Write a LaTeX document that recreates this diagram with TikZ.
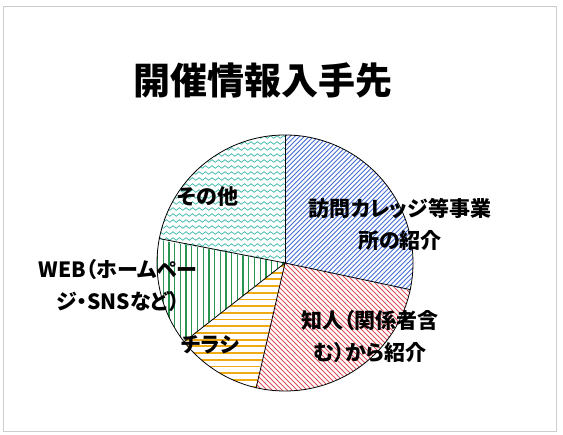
\documentclass[tikz,border=0pt]{standalone}
\usepackage{fontspec}
\setmainfont{Noto Sans CJK JP}
\newfontfamily\pcjk[RawFeature=+palt]{Noto Sans CJK JP}
\usetikzlibrary{decorations.pathmorphing}
\definecolor{hblue}{RGB}{70,110,215}
\definecolor{hred}{RGB}{225,75,85}
\definecolor{horange}{RGB}{240,170,20}
\definecolor{hgreen}{RGB}{40,150,80}
\definecolor{hteal}{RGB}{60,185,170}
\definecolor{framegray}{RGB}{205,205,205}
\tikzset{
  lbl/.style={font=\pcjk\bfseries\fontsize{21}{32}\selectfont, align=center, inner sep=0pt, text=black},
  ttlstyle/.style={font=\bfseries\fontsize{37}{40}\selectfont, inner sep=0pt},
  pieedge/.style={draw=black, line width=0.8pt},
  bluehatch/.style={hblue, line width=0.9pt},
  redhatch/.style={hred, line width=0.9pt},
  orangehatch/.style={horange, line width=1.8pt},
  greenhatch/.style={hgreen, line width=1.3pt},
  tealwave/.style={hteal, line width=0.7pt, decorate, decoration={snake, segment length=6.5pt, amplitude=1.3pt}},
}
\begin{document}
\begin{tikzpicture}[x=1pt,y=1pt]
\useasboundingbox (0,0) rectangle (563,435);
\fill[white] (0,0) rectangle (563,435);
\draw[framegray, line width=1pt] (3,3) rectangle (556,428);

\coordinate (c) at (285,172);
\def\R{128}
\begin{scope}[shift={(c)}]
  % 訪問カレッジ等事業所の紹介
  \begin{scope}
    \clip (0,0) -- (-12.5:\R) arc[start angle=-12.5, end angle=90, radius=\R] -- cycle;
    \foreach \k in {-300,-295.3,...,300} \draw[bluehatch] (\k-150,-150) -- ++(300,300);
  \end{scope}
  % 知人
  \begin{scope}
    \clip (0,0) -- (-103.4:\R) arc[start angle=-103.4, end angle=-12.5, radius=\R] -- cycle;
    \foreach \k in {-300,-295,...,300} \draw[redhatch] (\k-150,150) -- ++(300,-300);
  \end{scope}
  % チラシ
  \begin{scope}
    \clip (0,0) -- (-142.3:\R) arc[start angle=-142.3, end angle=-103.4, radius=\R] -- cycle;
    \foreach \y in {-3,-9.7,...,-135} \draw[orangehatch] (-140,\y) -- (10,\y);
  \end{scope}
  % WEB
  \begin{scope}
    \clip (0,0) -- (169.7:\R) arc[start angle=169.7, end angle=217.7, radius=\R] -- cycle;
    \foreach \x in {-2,-7.7,...,-135} \draw[greenhatch] (\x,-140) -- (\x,40);
  \end{scope}
  % その他
  \begin{scope}
    \clip (0,0) -- (90:\R) arc[start angle=90, end angle=169.7, radius=\R] -- cycle;
    \foreach \y in {-12,-6,...,140} \draw[tealwave] (-140,\y) -- (10,\y);
  \end{scope}
\end{scope}

\node[circle, pieedge, minimum size=256pt, inner sep=0pt] (pie) at (c) {};
\draw[pieedge] (pie.center) -- (pie.90);
\draw[pieedge] (pie.center) -- (pie.-12.5);
\draw[pieedge] (pie.center) -- (pie.-103.4);
\draw[pieedge] (pie.center) -- (pie.-142.3);
\draw[pieedge] (pie.center) -- (pie.169.7);

\node[ttlstyle] (title) at (263,355) {開催情報入手先};
\node[lbl] (visit) at (400,211) {訪問カレッジ等事業\\所の紹介};
\node[lbl] (friend) at (370,98) {知人（関係者含\\む）から紹介};
\node[lbl] (flyer) at (210,90) {チラシ};
\node[lbl] (web) at (118,149) {WEB（ホームペー\\ジ・SNSなど）};
\node[lbl] (other) at (208,238) {その他};
\end{tikzpicture}
\end{document}
